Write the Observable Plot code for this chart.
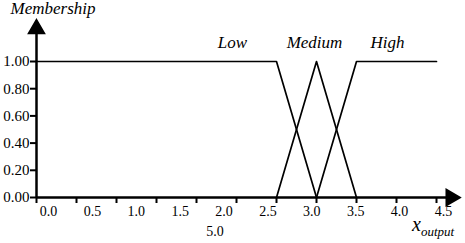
<!DOCTYPE html>
<html>
<head>
<meta charset="utf-8">
<script src="https://cdn.jsdelivr.net/npm/d3@7"></script>
<script src="https://cdn.jsdelivr.net/npm/@observablehq/plot@0.6"></script>
<style>
  html, body { margin: 0; padding: 0; background: white; }
  #wrap { position: relative; width: 465px; height: 243px; font-family: "Liberation Serif", "Times New Roman", Tinos, serif; }
  #wrap svg { position: absolute; left: 0; top: 0; }
  #wrap svg text { font-family: "Liberation Serif", "Times New Roman", Tinos, serif; }
  #xlab { position: absolute; left: 412px; top: 213px; font-style: italic; font-size: 20px; color: black; white-space: nowrap; }
  #xlab sub { font-size: 13px; }
</style>
</head>
<body>
<div id="wrap"><div id="xlab">x<sub>output</sub></div></div>
<script>
// ---- data ----
const setNames = ["Low", "Medium", "High"];
const lowX = [-0.5, 2.5, 3.0];
const lowY = [1, 1, 0];
const medX = [2.5, 3.0, 3.5];
const medY = [0, 1, 0];
const highX = [3.0, 3.5, 4.5];
const highY = [0, 1, 1];
const xTickMarks = [-0.5, 0, 0.5, 1, 1.5, 2, 2.5, 3, 3.5, 4, 4.5];
const xTickLabels = [0, 0.5, 1, 1.5, 2, 2.5, 3, 3.5, 4, 4.5];
const yTicks = [0, 0.2, 0.4, 0.6, 0.8, 1.0];
const strayLabel = "5.0";
const yTitle = "Membership";
const xAxisEnd = 4.76;
const yAxisEnd = 1.29;

const series = [
  {name: setNames[0], xs: lowX, ys: lowY},
  {name: setNames[1], xs: medX, ys: medY},
  {name: setNames[2], xs: highX, ys: highY}
];
const lineData = series.flatMap(s => s.xs.map((x, i) => ({set: s.name, x, y: s.ys[i]})));
const labelOffsets = [-44, -2, 31];
const labelAnchors = [
  {set: setNames[0], x: lowX[1], y: lowY[1]},
  {set: setNames[1], x: medX[1], y: medY[1]},
  {set: setNames[2], x: highX[1], y: highY[1]}
];

const W = 465, H = 243;
const font = "'Liberation Serif', 'Times New Roman', Tinos, serif";

const main = Plot.plot({
  width: W, height: H,
  marginLeft: 36, marginRight: 29, marginTop: 20, marginBottom: 46,
  style: {fontFamily: font, fontSize: "14px", color: "black", background: "transparent", overflow: "visible"},
  x: {domain: [-0.5, 4.5], range: [36, 436]},
  y: {domain: [0, 1], range: [197, 61]},
  marks: [
    Plot.axisY({ticks: yTicks, tickFormat: d3.format(".2f"), tickSize: 6, tickPadding: 1, label: null, fontSize: 15, strokeWidth: 2}),
    Plot.axisX({ticks: xTickMarks, tickFormat: () => "", tickSize: 6, label: null, strokeWidth: 2}),
    Plot.ruleY([0], {x1: -0.5, x2: xAxisEnd - 0.05, strokeWidth: 2.5, clip: false}),
    Plot.ruleX([-0.5], {y1: 0, y2: yAxisEnd - 0.04, strokeWidth: 2.5, clip: false}),
    Plot.dot([{x: xAxisEnd - 0.08, y: 0}], {x: "x", y: "y", symbol: "triangle", r: 6, rotate: 90, fill: "black", stroke: "black"}),
    Plot.dot([{x: -0.5, y: yAxisEnd - 0.05}], {x: "x", y: "y", symbol: "triangle", r: 6, fill: "black", stroke: "black"}),
    Plot.line(lineData, {x: "x", y: "y", z: "set", stroke: "black", strokeWidth: 1.7}),
    Plot.text(labelAnchors, {x: "x", y: "y", text: "set", fontStyle: "italic", fontSize: 17, lineAnchor: "bottom", dy: -14, fill: "black"}),
    Plot.text([yTitle], {frameAnchor: "top-left", dx: -26, dy: -7, lineAnchor: "bottom", textAnchor: "start", fontStyle: "italic", fontSize: 17, fill: "black"})
  ]
});

// apply per-label horizontal offsets
const textGroups = main.querySelectorAll("g[aria-label='text']");
if (textGroups.length) {
  const labelTexts = textGroups[0].querySelectorAll("text");
  labelOffsets.forEach((dx, i) => {
    const t = labelTexts[i];
    if (t) {
      const tr = t.getAttribute("transform") || "";
      t.setAttribute("transform", tr + ` translate(${dx},0)`);
    }
  });
}

const labels = Plot.plot({
  width: W, height: H,
  marginLeft: 48, marginRight: 22, marginTop: 20, marginBottom: 46,
  style: {fontFamily: font, fontSize: "14px", color: "black", background: "transparent", overflow: "visible"},
  x: {domain: [0, 4.5]},
  marks: [
    Plot.axisX({ticks: xTickLabels, tickFormat: d3.format(".1f"), tickSize: 0, tickPadding: 9, label: null, fontSize: 14}),
    Plot.text([strayLabel], {x: [2.0], frameAnchor: "bottom", dx: -9, dy: 38, fontSize: 14, fill: "black"})
  ]
});

const wrap = document.getElementById("wrap");
wrap.insertBefore(labels, wrap.firstChild);
wrap.insertBefore(main, wrap.firstChild);
</script>
</body>
</html>
